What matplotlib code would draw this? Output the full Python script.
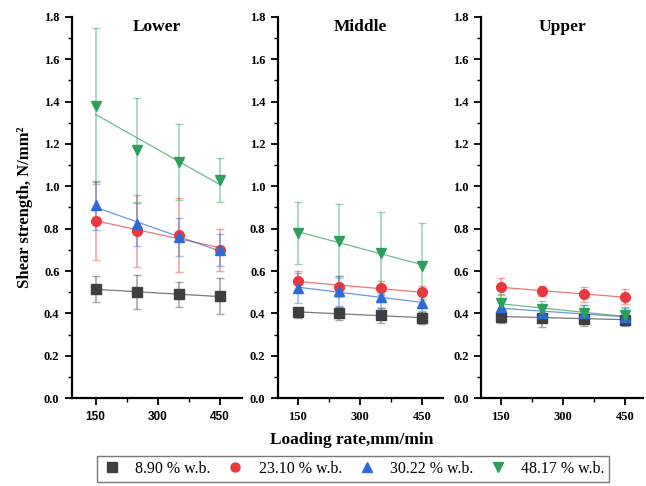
import numpy as np
import matplotlib
matplotlib.use("Agg")
import matplotlib.pyplot as plt
from matplotlib.ticker import MultipleLocator, FormatStrFormatter
from matplotlib.lines import Line2D

plt.rcParams['font.family'] = ['Liberation Serif', 'DejaVu Serif']

rates = [150, 250, 350, 450]
series = ["8.90 % w.b.", "23.10 % w.b.", "30.22 % w.b.", "48.17 % w.b."]
colors = ["#3f3f3f", "#e8393f", "#2a6bd6", "#2e9e5c"]
markers = ["s", "o", "^", "v"]
panels = ["Lower", "Middle", "Upper"]

# mean shear strength (N/mm2), one list per moisture level, per panel
lower_mean = [
    [0.515, 0.50, 0.49, 0.48],
    [0.835, 0.79, 0.77, 0.70],
    [0.91, 0.82, 0.76, 0.70],
    [1.38, 1.17, 1.115, 1.03],
]
lower_err = [
    [0.06, 0.08, 0.06, 0.085],
    [0.185, 0.17, 0.175, 0.10],
    [0.115, 0.10, 0.09, 0.075],
    [0.37, 0.245, 0.18, 0.105],
]
middle_mean = [
    [0.405, 0.40, 0.39, 0.378],
    [0.555, 0.525, 0.52, 0.50],
    [0.52, 0.505, 0.475, 0.45],
    [0.78, 0.74, 0.685, 0.625],
]
middle_err = [
    [0.025, 0.03, 0.035, 0.03],
    [0.045, 0.05, 0.035, 0.03],
    [0.07, 0.07, 0.05, 0.04],
    [0.148, 0.175, 0.195, 0.20],
]
upper_mean = [
    [0.385, 0.38, 0.375, 0.37],
    [0.525, 0.505, 0.49, 0.478],
    [0.43, 0.40, 0.40, 0.385],
    [0.45, 0.42, 0.40, 0.39],
]
upper_err = [
    [0.03, 0.045, 0.035, 0.03],
    [0.04, 0.025, 0.035, 0.035],
    [0.04, 0.04, 0.04, 0.04],
    [0.04, 0.04, 0.04, 0.04],
]
means = [lower_mean, middle_mean, upper_mean]
errs = [lower_err, middle_err, upper_err]

W, H = 646, 486
fig = plt.figure(figsize=(W / 100, H / 100), dpi=100)

# panel extents in pixels (left, right) and x limits
px = [(72, 242), (278, 443), (481, 643)]
xlims = [(93, 503), (102, 500), (102, 493)]
top_px, bot_px = 17, 398

x = np.array(rates, dtype=float)
for i, name in enumerate(panels):
    l, r = px[i]
    ax = fig.add_axes([l / W, 1 - bot_px / H, (r - l) / W, (bot_px - top_px) / H])
    for k in range(4):
        y = np.array(means[i][k])
        ax.errorbar(x, y, yerr=errs[i][k], fmt='none', ecolor=colors[k],
                    alpha=0.45, elinewidth=1.2, capsize=3, capthick=1.0, zorder=2)
        # linear fit through the four points
        p = np.polyfit(x, y, 1)
        ax.plot(x, np.polyval(p, x), color=colors[k], lw=0.9, alpha=0.7, zorder=3)
        ax.plot(x, y, linestyle='none', marker=markers[k], color=colors[k],
                ms=7, zorder=4)
    ax.set_xlim(*xlims[i])
    ax.set_ylim(0, 1.8)
    ax.set_xticks([150, 300, 450])
    ax.xaxis.set_minor_locator(MultipleLocator(75))
    ax.yaxis.set_major_locator(MultipleLocator(0.2))
    ax.yaxis.set_minor_locator(MultipleLocator(0.1))
    ax.yaxis.set_major_formatter(FormatStrFormatter('%.1f'))
    ax.spines['top'].set_visible(False)
    ax.spines['right'].set_visible(False)
    ax.spines['left'].set_linewidth(1.6)
    ax.spines['bottom'].set_linewidth(1.6)
    ax.tick_params(which='major', direction='out', length=5, width=1.3, labelsize=9, pad=4)
    ax.tick_params(which='minor', direction='out', length=3, width=1.0)
    for lab in ax.get_yticklabels():
        lab.set_fontweight('bold')
    for lab in ax.get_xticklabels():
        lab.set_fontweight('bold')
        if i == 0:
            lab.set_family('Liberation Sans')
            lab.set_fontsize(8.5)
    ax.text(0.5, 0.995, name, transform=ax.transAxes, ha='center', va='top',
            fontsize=12.5, fontweight='bold')
    if i == 0:
        ax.set_ylabel("Shear strength, N/mm²", fontsize=12, fontweight='bold', labelpad=8)

fig.text(352 / W, 1 - 440 / H, "Loading rate,mm/min", ha='center', va='center',
         fontsize=12.5, fontweight='bold')

handles = [Line2D([], [], linestyle='none', marker=markers[k], color=colors[k], ms=6.5)
           for k in range(4)]
fig.legend(handles, series, loc='center', bbox_to_anchor=(353 / W, 1 - 469 / H),
           ncol=4, frameon=True, fancybox=False, edgecolor='#555555', fontsize=11.5,
           handletextpad=0.8, columnspacing=0.9, borderpad=0.3, handlelength=1.3)

fig.savefig("out.png", dpi=100)
